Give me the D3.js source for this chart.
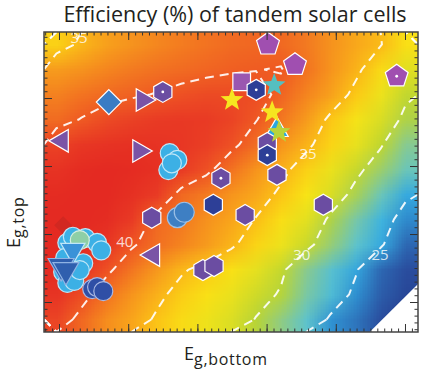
<!DOCTYPE html>
<html>
<head>
<meta charset="utf-8">
<script src="https://cdn.jsdelivr.net/npm/d3@7"></script>
<style>
body { margin: 0; background: #fff; }
svg { display: block; font-family: "Open Sans", "Noto Sans", sans-serif; }
</style>
</head>
<body>
<div id="chart"></div>
<script>
// efficiency (%): rows go from high Eg,top (top) to low, columns from low Eg,bottom to high
const efficiency = [
  [34.0, 35.4, 36.5, 37.3, 37.9, 38.4, 38.8, 39.2, 39.4, 39.3, 38.5, 37.3, 36.0, 35.1, 33.2],
  [36.8, 37.4, 38.0, 38.5, 38.9, 39.2, 39.5, 39.8, 39.95, 40.1, 38.8, 37.2, 35.5, 33.5, 31.5],
  [38.2, 38.8, 39.3, 39.7, 40.1, 40.6, 41.0, 41.0, 40.8, 39.5, 38.0, 36.4, 34.4, 32.3, 30.3],
  [39.2, 40.1, 41.0, 41.6, 42.0, 42.2, 42.0, 41.4, 40.1, 38.6, 36.8, 34.5, 32.8, 31.2, 29.6],
  [41.5, 42.5, 43.0, 43.2, 43.0, 42.5, 41.7, 40.5, 39.0, 37.2, 35.5, 33.8, 32.0, 30.2, 28.3],
  [43.0, 43.8, 44.0, 43.8, 43.2, 42.0, 40.5, 38.8, 37.2, 35.6, 34.0, 32.2, 30.5, 29.0, 27.4],
  [43.8, 44.2, 44.0, 43.2, 42.0, 39.3, 38.4, 37.2, 36.0, 34.6, 33.0, 31.2, 29.4, 27.4, 25.3],
  [44.0, 44.2, 43.6, 42.0, 39.3, 38.6, 37.4, 36.2, 34.9, 33.3, 31.7, 29.6, 27.8, 25.8, 24.3],
  [44.0, 43.8, 42.6, 40.3, 39.0, 38.0, 36.8, 35.4, 33.8, 32.3, 30.6, 28.8, 27.0, 25.3, 23.0],
  [43.8, 42.8, 40.5, 38.7, 37.0, 35.3, 34.3, 33.2, 31.8, 30.4, 28.4, 26.8, 25.2, 23.0, 21.5],
  [42.8, 40.8, 38.8, 37.2, 35.6, 34.2, 33.2, 32.1, 30.8, 29.8, 27.9, 26.4, 24.5, 22.6, 21.0],
  [41.3, 39.3, 37.6, 36.2, 34.7, 33.5, 32.4, 31.3, 29.9, 28.6, 27.0, 24.6, 23.5, 21.5, 20.0]
];
const egBottomRange = [0.9783, 1.5188];
const egTopRange = [1.4559, 1.8971];
const contourLevels = [25, 30, 35, 40];
// [Eg,bottom, Eg,top, text]
const contourLabels = [[1.029, 1.888, "35"], [1.095, 1.588, "40"], [1.360, 1.718, "35"], [1.351, 1.569, "30"], [1.464, 1.569, "25"]];
// corner with no result
const noDataRegion = [[1.449, 1.4559], [1.5188, 1.4559], [1.5188, 1.5265]];

// reported cells, [Eg,bottom, Eg,top]
const pentagonPurple = [[1.302, 1.879], [1.341, 1.849]];
const pentagonPurpleDot = [[1.488, 1.832]];
const squarePurple = [[1.264, 1.824]];
const diamondBlue = [[1.072, 1.794]];
const diamondRed = [[1.006, 1.613]];
const triRightPurple = [[1.121, 1.797], [1.116, 1.722]];
const triLeftPurple = [[1.004, 1.737], [1.136, 1.569]];
const triUpBlue = [[1.315, 1.753]];
const hexPurple = [[1.301, 1.734], [1.315, 1.687], [1.269, 1.628], [1.382, 1.643], [1.134, 1.624], [1.208, 1.547], [1.224, 1.553]];
const hexPurpleDot = [[1.234, 1.682], [1.150, 1.809]];
const hexBlue = [[1.223, 1.643]];
const hexBlueDot = [[1.285, 1.812], [1.301, 1.716]];
const circleLight = [[1.160, 1.719], [1.171, 1.709], [1.158, 1.694], [1.163, 1.704],
  [1.012, 1.587], [1.020, 1.596], [1.038, 1.594], [1.055, 1.587], [1.061, 1.576], [1.009, 1.565],
  [1.035, 1.557], [1.006, 1.544], [1.012, 1.528], [1.022, 1.531], [1.030, 1.547]];
const circleGreen = [[1.030, 1.591]];
const circleMid = [[1.171, 1.624], [1.181, 1.632]];
const circleDark = [[1.048, 1.519], [1.055, 1.522], [1.064, 1.516]];
const triDownBlue = [[1.020, 1.576]];
const triDownDark = [[1.003, 1.553], [1.010, 1.547]];
const starYellow = [[1.250, 1.797], [1.308, 1.779]];
const starCyan = [[1.311, 1.819]];
const starLime = [[1.318, 1.750]];

const W = 422, H = 383;
const margin = {top: 32, right: 4, bottom: 51, left: 44},
      width = W - margin.left - margin.right,
      height = H - margin.top - margin.bottom;

const svg = d3.select("#chart").append("svg")
  .attr("width", W)
  .attr("height", H);

const g = svg.append("g")
  .attr("transform", "translate(" + margin.left + "," + margin.top + ")");

const x = d3.scaleLinear().domain(egBottomRange).range([0, width]);
const y = d3.scaleLinear().domain(egTopRange).range([height, 0]);

const color = d3.scaleLinear()
  .domain([20, 22.5, 24.5, 25.5, 27, 28.5, 30, 31.5, 33, 34.5, 36, 37.5, 39, 40.5, 42, 44])
  .range(["#263a8e", "#2c5aa8", "#2f8fd0", "#38b0e3", "#5ec3cc", "#8ccb8a", "#bad532", "#e0df22",
          "#f8e416", "#fcc816", "#f9a81b", "#f6901e", "#f26f22", "#ee5124", "#e93b25", "#e42a22"])
  .clamp(true);

// heat map: one pixel per grid value, smoothed when stretched
const nRows = efficiency.length, nCols = efficiency[0].length;
const canvas = document.createElement("canvas");
canvas.width = nCols;
canvas.height = nRows;
const ctx = canvas.getContext("2d");
const img = ctx.createImageData(nCols, nRows);
efficiency.forEach(function(row, j) {
  row.forEach(function(v, i) {
    const c = d3.rgb(color(v));
    const k = 4 * (j * nCols + i);
    img.data[k] = c.r; img.data[k + 1] = c.g; img.data[k + 2] = c.b; img.data[k + 3] = 255;
  });
});
ctx.putImageData(img, 0, 0);

g.append("image")
  .attr("href", canvas.toDataURL())
  .attr("width", width)
  .attr("height", height)
  .attr("preserveAspectRatio", "none");

g.append("path")
  .attr("d", "M" + noDataRegion.map(function(d) { return x(d[0]) + "," + y(d[1]); }).join("L") + "Z")
  .attr("fill", "#fff");

// dashed contour lines, dropping the parts that run along the frame
const gx = d3.scaleLinear().domain([0, nCols]).range([0, width]);
const gy = d3.scaleLinear().domain([0, nRows]).range([0, height]);
const contours = d3.contours().size([nCols, nRows]).thresholds(contourLevels)(efficiency.flat());

function onEdge(a, b) {
  return (a[0] === 0 && b[0] === 0) || (a[0] === nCols && b[0] === nCols) ||
         (a[1] === 0 && b[1] === 0) || (a[1] === nRows && b[1] === nRows);
}

contours.forEach(function(c) {
  let d = "";
  c.coordinates.forEach(function(poly) {
    poly.forEach(function(ring) {
      let pen = false;
      for (let i = 1; i < ring.length; i++) {
        const a = ring[i - 1], b = ring[i];
        if (onEdge(a, b)) { pen = false; continue; }
        if (!pen) { d += "M" + gx(a[0]) + "," + gy(a[1]); pen = true; }
        d += "L" + gx(b[0]) + "," + gy(b[1]);
      }
    });
  });
  g.append("path")
    .attr("class", "contour")
    .attr("d", d)
    .attr("fill", "none")
    .attr("stroke", "#fff")
    .attr("stroke-opacity", 0.9)
    .attr("stroke-width", 2)
    .attr("stroke-dasharray", "9,6");
});

g.selectAll(".clabel")
  .data(contourLabels)
  .enter()
  .append("text")
  .attr("class", "clabel")
  .attr("x", function(d) { return x(d[0]); })
  .attr("y", function(d) { return y(d[1]); })
  .attr("dy", "0.35em")
  .attr("text-anchor", "middle")
  .style("font-size", "15px")
  .style("fill", "#fff")
  .style("fill-opacity", 0.8)
  .text(function(d) { return d[2]; });

// marker shapes
function polygon(n, r, rot) {
  const pts = d3.range(n).map(function(k) {
    const a = rot + 2 * Math.PI * k / n - Math.PI / 2;
    return [r * Math.cos(a), r * Math.sin(a)];
  });
  return "M" + pts.join("L") + "Z";
}
function star(r) {
  const pts = d3.range(10).map(function(k) {
    const a = Math.PI * k / 5 - Math.PI / 2, rr = k % 2 ? r * 0.42 : r;
    return [rr * Math.cos(a), rr * Math.sin(a)];
  });
  return "M" + pts.join("L") + "Z";
}
function circle(r) {
  return "M" + r + ",0A" + r + "," + r + " 0 1,1 " + (-r) + ",0A" + r + "," + r + " 0 1,1 " + r + ",0Z";
}

const layers = [
  {data: diamondRed, path: polygon(4, 9, 0), fill: "#b3261f", stroke: "none", opacity: 0.35},
  {data: pentagonPurple, path: polygon(5, 12, 0), fill: "#a04fb0", stroke: "#fff"},
  {data: pentagonPurpleDot, path: polygon(5, 12, 0), fill: "#a04fb0", stroke: "#fff", dot: true},
  {data: squarePurple, path: polygon(4, 12.5, Math.PI / 4), fill: "#9a57b0", stroke: "#fff"},
  {data: diamondBlue, path: polygon(4, 12.5, 0), fill: "#3a7cc4", stroke: "#fff"},
  {data: triRightPurple, path: polygon(3, 13, Math.PI / 2), fill: "#7a53a6", stroke: "#fff"},
  {data: triLeftPurple, path: polygon(3, 13, -Math.PI / 2), fill: "#7a53a6", stroke: "#fff"},
  {data: triUpBlue, path: polygon(3, 13, 0), fill: "#2aa7e0", stroke: "#fff"},
  {data: hexPurple, path: polygon(6, 10.5, 0), fill: "#6b4da2", stroke: "#fff"},
  {data: hexPurpleDot, path: polygon(6, 10.5, 0), fill: "#6b4da2", stroke: "#fff", dot: true},
  {data: hexBlue, path: polygon(6, 10.5, 0), fill: "#2d3f97", stroke: "#fff"},
  {data: hexBlueDot, path: polygon(6, 10.5, 0), fill: "#2d3f97", stroke: "#fff", dot: true},
  {data: circleLight, path: circle(9.5), fill: "#3cb0e5", stroke: "#bfe6f7"},
  {data: circleGreen, path: circle(9.5), fill: "#8ecfa6", stroke: "#d8f0e0"},
  {data: circleMid, path: circle(10), fill: "#3e7fc3", stroke: "#9cc0e6"},
  {data: circleDark, path: circle(9.5), fill: "#2f4fa6", stroke: "#a9b8e3"},
  {data: triDownBlue, path: polygon(3, 14, Math.PI), fill: "#3a92d8", stroke: "#bfe6f7"},
  {data: triDownDark, path: polygon(3, 15, Math.PI), fill: "#2f5fae", stroke: "#8fb3e3"},
  {data: starYellow, path: star(12), fill: "#f6e620", stroke: "none"},
  {data: starCyan, path: star(12), fill: "#55bfc0", stroke: "none"},
  {data: starLime, path: star(12), fill: "#b9d33a", stroke: "none"}
];

layers.forEach(function(l, li) {
  const sel = g.selectAll(".m" + li)
    .data(l.data)
    .enter()
    .append("g")
    .attr("class", "m" + li)
    .attr("transform", function(d) { return "translate(" + x(d[0]) + "," + y(d[1]) + ")"; });
  sel.append("path")
    .attr("d", l.path)
    .style("fill", l.fill)
    .style("fill-opacity", l.opacity || 1)
    .style("stroke", l.stroke)
    .style("stroke-width", 1.2);
  if (l.dot) {
    sel.append("circle").attr("r", 1.4).style("fill", "#fff");
  }
});

// inward ticks on all four sides
function steps(domain, step) {
  return d3.range(Math.ceil(domain[0] / step - 1e-9), Math.floor(domain[1] / step + 1e-9) + 1)
    .map(function(k) { return +(k * step).toFixed(3); });
}
const xMinor = steps(egBottomRange, 0.01), xMajor = steps(egBottomRange, 0.1);
const yMinor = steps(egTopRange, 0.01), yMajor = steps(egTopRange, 0.1);

function addAxis(axis, values, size, transform) {
  const a = g.append("g")
    .attr("class", "axis")
    .attr("transform", transform)
    .call(axis.tickValues(values).tickSize(size).tickFormat(""));
  a.select(".domain").remove();
  a.selectAll("line").attr("stroke", "#333");
}
[[xMinor, 3.5], [xMajor, 8]].forEach(function(t) {
  addAxis(d3.axisTop(x), t[0], t[1], "translate(0," + height + ")");
  addAxis(d3.axisBottom(x), t[0], t[1], "translate(0,0)");
});
[[yMinor, 3.5], [yMajor, 8]].forEach(function(t) {
  addAxis(d3.axisRight(y), t[0], t[1], "translate(0,0)");
  addAxis(d3.axisLeft(y), t[0], t[1], "translate(" + width + ",0)");
});

g.append("rect")
  .attr("width", width)
  .attr("height", height)
  .attr("fill", "none")
  .attr("stroke", "#444")
  .attr("stroke-width", 1.5);

svg.append("text")
  .attr("x", 235)
  .attr("y", 22)
  .attr("text-anchor", "middle")
  .style("font-size", "21.5px")
  .style("fill", "#231f20")
  .text("Efficiency (%) of tandem solar cells");

const xl = svg.append("text")
  .attr("x", 184)
  .attr("y", 360)
  .style("fill", "#231f20");
xl.append("tspan").style("font-size", "18px").text("E");
xl.append("tspan").attr("dy", 5).style("font-size", "16px").style("letter-spacing", "0.7px").text("g,bottom");

const yl = svg.append("text")
  .attr("transform", "translate(20,248) rotate(-90)")
  .style("fill", "#231f20");
yl.append("tspan").style("font-size", "18px").text("E");
yl.append("tspan").attr("dy", 4).style("font-size", "16px").style("letter-spacing", "0.7px").text("g,top");
</script>
</body>
</html>
